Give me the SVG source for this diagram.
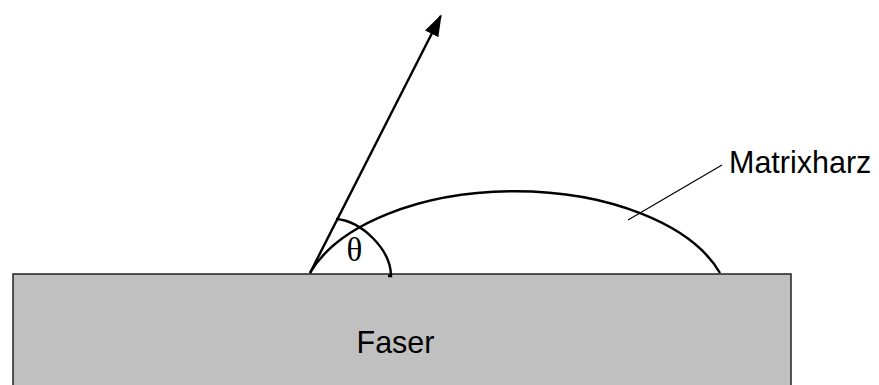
<svg xmlns="http://www.w3.org/2000/svg" width="879" height="385" viewBox="0 0 879 385">
<style>
.lbl{font-family:"Liberation Sans",Arial,sans-serif;font-size:30.5px;fill:#000}
.greek{font-family:"Liberation Serif","Times New Roman",serif;font-size:33px;fill:#000}
.ln{fill:none;stroke:#000;stroke-width:2.4}
</style>
<defs>
<marker id="arr" markerWidth="22" markerHeight="15" refX="20" refY="7.5" orient="auto" markerUnits="userSpaceOnUse">
<path d="M0,0 L22,7.5 L0,15 Z" fill="#000"/>
</marker>
</defs>
<rect width="879" height="385" fill="#fff"/>
<g id="faser">
<rect x="13" y="274" width="778" height="120" fill="#c0c0c0" stroke="#222" stroke-width="1.5"/>
<text class="lbl" x="395.5" y="353" text-anchor="middle">Faser</text>
</g>
<g id="matrixharz">
<path class="ln" d="M310,273 A215,117 0 0 1 720,273"/>
<text class="lbl" x="729" y="173">Matrixharz</text>
</g>
<g id="angle">
<path class="ln" d="M336,219 C362,221 391,250 391,276 l-3,0"/>
<text class="greek" x="354.5" y="261" text-anchor="middle">θ</text>
</g>
<g id="connectors">
<line class="ln" x1="310" y1="273" x2="440.7" y2="16" marker-end="url(#arr)"/>
<line x1="628" y1="220" x2="722" y2="165" stroke="#000" stroke-width="1.2"/>
</g>
</svg>
